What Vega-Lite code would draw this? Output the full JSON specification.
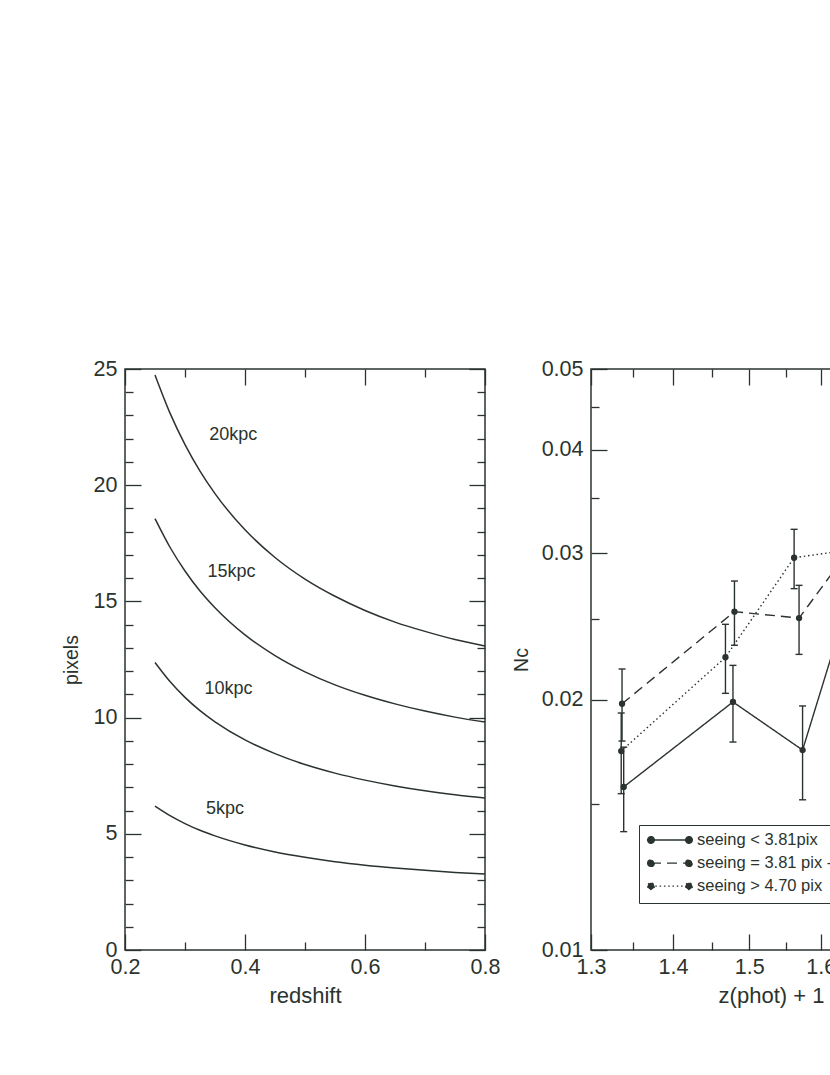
{
  "$schema": "https://vega.github.io/schema/vega-lite/v6.json",
  "background": "white",
  "padding": {"left": 60, "top": 357, "right": 0, "bottom": 0},
  "spacing": 9,
  "config": {
    "font": "Liberation Sans",
    "view": {"stroke": "#2b332e", "strokeWidth": 1.5},
    "axis": {
      "domain": false, "grid": false, "tickColor": "#2b332e", "tickWidth": 1.3,
      "labelColor": "#2b332e", "labelFont": "Liberation Sans", "labelFontSize": 21.5,
      "labelFlush": false, "labelOverlap": false,
      "titleColor": "#2b332e", "titleFont": "Liberation Sans", "titleFontWeight": "normal", "titleFontSize": 22
    }
  },
  "datasets": {
    "curves": [
      {"z": 0.25, "px": 24.74, "size": "20kpc"}, {"z": 0.275, "px": 23.10, "size": "20kpc"}, {"z": 0.30, "px": 21.75, "size": "20kpc"}, {"z": 0.325, "px": 20.61, "size": "20kpc"}, {"z": 0.35, "px": 19.64, "size": "20kpc"}, {"z": 0.40, "px": 18.08, "size": "20kpc"}, {"z": 0.45, "px": 16.89, "size": "20kpc"}, {"z": 0.50, "px": 15.96, "size": "20kpc"}, {"z": 0.55, "px": 15.22, "size": "20kpc"}, {"z": 0.60, "px": 14.61, "size": "20kpc"}, {"z": 0.65, "px": 14.11, "size": "20kpc"}, {"z": 0.70, "px": 13.71, "size": "20kpc"}, {"z": 0.75, "px": 13.36, "size": "20kpc"}, {"z": 0.80, "px": 13.08, "size": "20kpc"},
      {"z": 0.25, "px": 18.56, "size": "15kpc"}, {"z": 0.275, "px": 17.33, "size": "15kpc"}, {"z": 0.30, "px": 16.31, "size": "15kpc"}, {"z": 0.325, "px": 15.45, "size": "15kpc"}, {"z": 0.35, "px": 14.73, "size": "15kpc"}, {"z": 0.40, "px": 13.56, "size": "15kpc"}, {"z": 0.45, "px": 12.67, "size": "15kpc"}, {"z": 0.50, "px": 11.97, "size": "15kpc"}, {"z": 0.55, "px": 11.41, "size": "15kpc"}, {"z": 0.60, "px": 10.96, "size": "15kpc"}, {"z": 0.65, "px": 10.59, "size": "15kpc"}, {"z": 0.70, "px": 10.28, "size": "15kpc"}, {"z": 0.75, "px": 10.02, "size": "15kpc"}, {"z": 0.80, "px": 9.81, "size": "15kpc"},
      {"z": 0.25, "px": 12.37, "size": "10kpc"}, {"z": 0.275, "px": 11.55, "size": "10kpc"}, {"z": 0.30, "px": 10.87, "size": "10kpc"}, {"z": 0.325, "px": 10.30, "size": "10kpc"}, {"z": 0.35, "px": 9.82, "size": "10kpc"}, {"z": 0.40, "px": 9.04, "size": "10kpc"}, {"z": 0.45, "px": 8.45, "size": "10kpc"}, {"z": 0.50, "px": 7.98, "size": "10kpc"}, {"z": 0.55, "px": 7.61, "size": "10kpc"}, {"z": 0.60, "px": 7.31, "size": "10kpc"}, {"z": 0.65, "px": 7.06, "size": "10kpc"}, {"z": 0.70, "px": 6.85, "size": "10kpc"}, {"z": 0.75, "px": 6.68, "size": "10kpc"}, {"z": 0.80, "px": 6.54, "size": "10kpc"},
      {"z": 0.25, "px": 6.19, "size": "5kpc"}, {"z": 0.275, "px": 5.78, "size": "5kpc"}, {"z": 0.30, "px": 5.44, "size": "5kpc"}, {"z": 0.325, "px": 5.15, "size": "5kpc"}, {"z": 0.35, "px": 4.91, "size": "5kpc"}, {"z": 0.40, "px": 4.52, "size": "5kpc"}, {"z": 0.45, "px": 4.22, "size": "5kpc"}, {"z": 0.50, "px": 3.99, "size": "5kpc"}, {"z": 0.55, "px": 3.80, "size": "5kpc"}, {"z": 0.60, "px": 3.65, "size": "5kpc"}, {"z": 0.65, "px": 3.53, "size": "5kpc"}, {"z": 0.70, "px": 3.43, "size": "5kpc"}, {"z": 0.75, "px": 3.34, "size": "5kpc"}, {"z": 0.80, "px": 3.27, "size": "5kpc"}
    ],
    "labels": [
      {"lx": 0.3405, "ly": 22.16, "label": "20kpc"},
      {"lx": 0.3375, "ly": 16.28, "label": "15kpc"},
      {"lx": 0.3325, "ly": 11.24, "label": "10kpc"},
      {"lx": 0.335, "ly": 6.05, "label": "5kpc"}
    ],
    "pts": [
      {"zp": 1.339, "nc": 0.01571, "lo": 0.01388, "hi": 0.01754, "series": "seeing < 3.81pix"},
      {"zp": 1.478, "nc": 0.01988, "lo": 0.01779, "hi": 0.02200, "series": "seeing < 3.81pix"},
      {"zp": 1.574, "nc": 0.01740, "lo": 0.01516, "hi": 0.01966, "series": "seeing < 3.81pix"},
      {"zp": 1.655, "nc": 0.02870, "lo": 0.02620, "hi": 0.03120, "series": "seeing < 3.81pix"},
      {"zp": 1.337, "nc": 0.01978, "lo": 0.01784, "hi": 0.02178, "series": "seeing = 3.81 pix - 4.70 pix"},
      {"zp": 1.480, "nc": 0.02553, "lo": 0.02326, "hi": 0.02779, "series": "seeing = 3.81 pix - 4.70 pix"},
      {"zp": 1.569, "nc": 0.02508, "lo": 0.02268, "hi": 0.02746, "series": "seeing = 3.81 pix - 4.70 pix"},
      {"zp": 1.655, "nc": 0.03130, "lo": 0.02880, "hi": 0.03380, "series": "seeing = 3.81 pix - 4.70 pix"},
      {"zp": 1.336, "nc": 0.01735, "lo": 0.01542, "hi": 0.01928, "series": "seeing > 4.70 pix"},
      {"zp": 1.468, "nc": 0.02250, "lo": 0.02036, "hi": 0.02465, "series": "seeing > 4.70 pix"},
      {"zp": 1.562, "nc": 0.02964, "lo": 0.02721, "hi": 0.03207, "series": "seeing > 4.70 pix"},
      {"zp": 1.655, "nc": 0.03040, "lo": 0.02790, "hi": 0.03290, "series": "seeing > 4.70 pix"}
    ]
  },
  "hconcat": [
    {
      "width": 360,
      "height": 581,
      "resolve": {"axis": {"x": "independent", "y": "independent"}},
      "layer": [
        {
          "data": {"name": "curves"},
          "mark": {"type": "line", "interpolate": "monotone", "color": "#2b332e", "strokeWidth": 1.5},
          "encoding": {
            "x": {"field": "z", "type": "quantitative",
              "scale": {"domain": [0.2, 0.8], "nice": false, "zero": false},
              "axis": {"orient": "bottom", "values": [0.2, 0.3, 0.4, 0.5, 0.6, 0.7, 0.8], "format": ".1f",
                "tickSize": {"condition": {"test": "round(datum.value*10) % 2 == 0", "value": -16}, "value": -8},
                "labelExpr": "round(datum.value*10) % 2 == 0 ? datum.label : ''",
                "labelPadding": 22, "title": "redshift", "titlePadding": 0}},
            "y": {"field": "px", "type": "quantitative",
              "scale": {"domain": [0, 25], "nice": false},
              "axis": {"orient": "left", "values": [0,1,2,3,4,5,6,7,8,9,10,11,12,13,14,15,16,17,18,19,20,21,22,23,24,25],
                "tickSize": {"condition": {"test": "datum.value % 5 == 0", "value": -16}, "value": -8},
                "labelExpr": "datum.value % 5 == 0 ? datum.label : ''",
                "labelPadding": 24, "title": "pixels", "titleFontSize": 19.5, "titlePadding": 12}},
            "detail": {"field": "size"}
          }
        },
        {
          "data": {"name": "labels"},
          "mark": {"type": "text", "align": "left", "baseline": "middle", "fontSize": 18, "color": "#2b332e", "font": "Liberation Sans"},
          "encoding": {
            "x": {"field": "lx", "type": "quantitative",
              "axis": {"orient": "top", "values": [0.2, 0.3, 0.4, 0.5, 0.6, 0.7, 0.8], "labels": false, "title": null,
                "tickSize": {"condition": {"test": "round(datum.value*10) % 2 == 0", "value": -16}, "value": -8}}},
            "y": {"field": "ly", "type": "quantitative",
              "axis": {"orient": "right", "values": [0,1,2,3,4,5,6,7,8,9,10,11,12,13,14,15,16,17,18,19,20,21,22,23,24,25], "labels": false, "title": null,
                "tickSize": {"condition": {"test": "datum.value % 5 == 0", "value": -16}, "value": -8}}},
            "text": {"field": "label"}
          }
        }
      ]
    },
    {
      "width": 360,
      "height": 581,
      "resolve": {"axis": {"x": "independent", "y": "independent"}},
      "layer": [
        {
          "data": {"name": "pts"},
          "mark": {"type": "line", "color": "#2b332e", "strokeWidth": 1.4},
          "encoding": {
            "x": {"field": "zp", "type": "quantitative",
              "scale": {"type": "log", "domain": [1.3, 1.8], "nice": false, "zero": false},
              "axis": {"orient": "bottom", "values": [1.3, 1.35, 1.4, 1.45, 1.5, 1.55, 1.6, 1.65, 1.7, 1.75, 1.8], "format": ".1f",
                "tickSize": {"condition": {"test": "round(datum.value*100) % 10 == 0", "value": -16}, "value": -8},
                "labelExpr": "round(datum.value*100) % 10 == 0 ? datum.label : ''",
                "labelPadding": 22, "title": "z(phot) + 1", "titlePadding": 0}},
            "y": {"field": "nc", "type": "quantitative",
              "scale": {"type": "log", "domain": [0.01, 0.05], "nice": false},
              "axis": {"orient": "left", "values": [0.01, 0.015, 0.02, 0.025, 0.03, 0.035, 0.04, 0.045, 0.05], "format": ".2f",
                "tickSize": {"condition": {"test": "round(datum.value*1000) % 10 == 0", "value": -16}, "value": -8},
                "labelExpr": "round(datum.value*1000) % 10 == 0 ? datum.label : ''",
                "labelPadding": 24, "title": "Nc", "titleFontSize": 19.5, "titlePadding": 10}},
            "strokeDash": {"field": "series", "type": "nominal",
              "scale": {"domain": ["seeing < 3.81pix", "seeing = 3.81 pix - 4.70 pix", "seeing > 4.70 pix"], "range": [[1, 0], [10, 6], [1.5, 2.8]]},
              "legend": {"orient": "none", "legendX": 514, "legendY": 456, "title": null,
                "symbolType": "M-0.85,0L0.85,0M-1,0a0.15,0.15 0 1,0 0.3,0a0.15,0.15 0 1,0 -0.3,0M0.7,0a0.15,0.15 0 1,0 0.3,0a0.15,0.15 0 1,0 -0.3,0",
                "symbolSize": 1998, "symbolStrokeColor": "#2b332e", "symbolFillColor": "#2b332e", "symbolStrokeWidth": 1.3,
                "labelFontSize": 16.5, "labelColor": "#2b332e", "labelFont": "Liberation Sans", "labelOffset": 4, "labelLimit": 400,
                "clipHeight": 14, "rowPadding": 6.1, "padding": 8, "strokeColor": "#2b332e", "fillColor": "white"}}
          }
        },
        {
          "data": {"name": "pts"},
          "mark": {"type": "rule", "color": "#2b332e", "strokeWidth": 1.4},
          "encoding": {
            "x": {"field": "zp", "type": "quantitative", "axis": null},
            "y": {"field": "lo", "type": "quantitative", "axis": null},
            "y2": {"field": "hi"}
          }
        },
        {
          "data": {"name": "pts"},
          "transform": [{"fold": ["lo", "hi"], "as": ["end", "val"]}],
          "mark": {"type": "tick", "orient": "horizontal", "color": "#2b332e", "size": 7, "thickness": 1.4, "opacity": 1},
          "encoding": {
            "x": {"field": "zp", "type": "quantitative", "axis": null},
            "y": {"field": "val", "type": "quantitative", "axis": null}
          }
        },
        {
          "data": {"name": "pts"},
          "mark": {"type": "point", "filled": true, "color": "#2b332e", "size": 40, "opacity": 1},
          "encoding": {
            "x": {"field": "zp", "type": "quantitative",
              "axis": {"orient": "top", "values": [1.3, 1.35, 1.4, 1.45, 1.5, 1.55, 1.6, 1.65, 1.7, 1.75, 1.8], "labels": false, "title": null,
                "tickSize": {"condition": {"test": "round(datum.value*100) % 10 == 0", "value": -16}, "value": -8}}},
            "y": {"field": "nc", "type": "quantitative",
              "axis": {"orient": "right", "values": [0.01, 0.015, 0.02, 0.025, 0.03, 0.035, 0.04, 0.045, 0.05], "labels": false, "title": null,
                "tickSize": {"condition": {"test": "round(datum.value*1000) % 10 == 0", "value": -16}, "value": -8}}}
          }
        }
      ]
    }
  ]
}
